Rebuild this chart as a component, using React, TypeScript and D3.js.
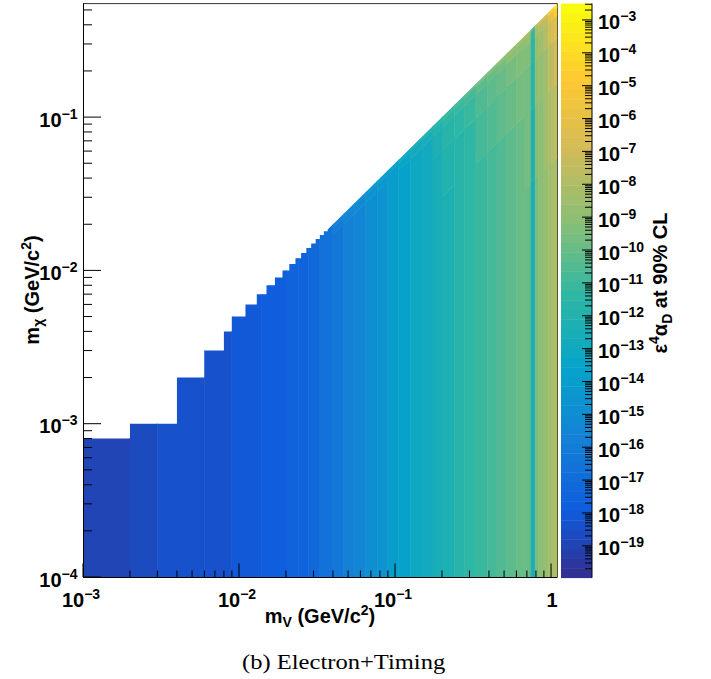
import React from "react";
import * as d3 from "d3";

// ---------------------------------------------------------------------------
// Scan region: upper staircase edge at low mass (GeV/c^2). stepMChiTop[i]
// holds for m_V in [stepMV[i], stepMV[i+1]]; above stepMV's last entry the
// region is bounded by m_chi = m_V / 2.
const stepMV = [
  0.001, 0.002, 0.004, 0.006, 0.008, 0.009, 0.011, 0.013, 0.015, 0.017,
  0.019, 0.021, 0.023, 0.025, 0.027, 0.029, 0.031, 0.033, 0.035, 0.037,
];
const stepMChiTop = [
  0.0008, 0.001, 0.002, 0.003, 0.004, 0.005, 0.006, 0.007, 0.008, 0.009,
  0.01, 0.011, 0.012, 0.013, 0.014, 0.015, 0.016, 0.017, 0.018,
];

// m_V columns (edges) and log10(eps^4 alpha_D) limit away from threshold
const columnMV = [
  0.001, 0.002, 0.003, 0.006, 0.009, 0.014, 0.017, 0.02, 0.024, 0.028,
  0.033, 0.04, 0.047, 0.055, 0.065, 0.077, 0.09, 0.105, 0.125, 0.15,
  0.175, 0.2, 0.24, 0.28, 0.33, 0.39, 0.45, 0.52, 0.6, 0.68,
  0.745, 0.79, 0.83, 0.9, 0.96, 1.0, 1.05, 1.1,
];
const log10LimitFar = [
  -18.84, -18.66, -18.49, -18.31, -18.05, -17.79, -17.7, -17.56, -17.35, -17.09,
  -16.65, -16.22, -15.78, -15.34, -14.91, -14.47, -14.12, -13.68, -13.25, -12.81,
  -12.46, -12.11, -11.76, -11.41, -11.07, -10.8, -10.54, -10.28, -10.02, -9.84,
  -12.4, -9.49, -9.14, -8.8, -8.53, -8.27, -8.1,
];

// Rise of the limit close to threshold (decades), by mass-ratio band
// r = m_chi / (m_V / 2) and by m_V group
const ratioBandEdges = [0, 0.1, 0.3, 0.6, 0.85, 0.95];
const riseGroupMV = [0.001, 0.037, 0.1, 0.2, 0.33, 0.52, 0.745, 0.79, 0.96, 1.05, 1.1];
const riseBand0 = [0, 0, 0, 0, 0, 0, 0, 0, 0, 0];
const riseBand1 = [0, 0, 0, 0, 0.05, 0.1, 0.1, 0.2, 0.3, 0.4];
const riseBand2 = [0, 0, 0, 0.1, 0.2, 0.3, 0.3, 0.4, 0.8, 1.0];
const riseBand3 = [0, 0, 0.1, 0.3, 0.5, 0.6, 0.6, 0.8, 1.5, 1.8];
const riseBand4 = [0, 0.2, 0.4, 0.6, 0.9, 1.1, 1.0, 1.3, 2.5, 3.5];
const riseBand5 = [0, 0.5, 0.8, 1.1, 1.4, 1.6, 1.5, 2.0, 3.5, 5.0];
const riseBands = [riseBand0, riseBand1, riseBand2, riseBand3, riseBand4, riseBand5];

// Axis decades
const xMajorExp = [-3, -2, -1, 0];
const yMajorExp = [-4, -3, -2, -1];
const zMajorExp = [-19, -18, -17, -16, -15, -14, -13, -12, -11, -10, -9, -8, -7, -6, -5, -4, -3];

// ROOT kBird palette
const birdStops = [0, 0.125, 0.25, 0.375, 0.5, 0.625, 0.75, 0.875, 1];
const birdR = [0.2082, 0.0592, 0.078, 0.0232, 0.1802, 0.5301, 0.8186, 0.9956, 0.9764];
const birdG = [0.1664, 0.3599, 0.5041, 0.6419, 0.7178, 0.7492, 0.7328, 0.7862, 0.9832];
const birdB = [0.5293, 0.8684, 0.8385, 0.7914, 0.6425, 0.4662, 0.3499, 0.1968, 0.0539];

// ---------------------------------------------------------------------------
const W = 711;
const H = 679;
const X_MIN = 1e-3, X_MAX = 1.1;
const Y_MIN = 1e-4, Y_MAX = 0.55;
const Z_LOG_MIN = -19.97, Z_LOG_MAX = -2.5;
const N_CONTOURS = 60;

const FRAME = { left: 83, right: 557.5, top: 3.6, bottom: 577 };
const CBAR = { left: 561, right: 592, top: 3.5, bottom: 577.7 };

const x = d3.scaleLog().domain([X_MIN, X_MAX]).range([FRAME.left, FRAME.right]);
const y = d3.scaleLog().domain([Y_MIN, Y_MAX]).range([FRAME.bottom, FRAME.top]);
const z = d3.scaleLog().domain([10 ** Z_LOG_MIN, 10 ** Z_LOG_MAX]).range([CBAR.bottom, CBAR.top]);

const bird = d3
  .scaleLinear<string>()
  .domain(birdStops)
  .range(birdStops.map((_, i) => d3.rgb(birdR[i] * 255, birdG[i] * 255, birdB[i] * 255).toString()))
  .interpolate(d3.interpolateRgb)
  .clamp(true);

const levelOf = (logz: number) => {
  const t = (logz - Z_LOG_MIN) / (Z_LOG_MAX - Z_LOG_MIN);
  return Math.max(0, Math.min(N_CONTOURS - 1, Math.floor(t * N_CONTOURS)));
};
const levelColor = (k: number) => bird((k + 0.99) / N_CONTOURS);

const FONT = "'Liberation Sans', Arial, Helvetica, sans-serif";
const MINUS = "\u2212";

type Cell = { pts: [number, number][]; color: string };

// One polygon per run of equal colour inside a column; band boundaries are
// lines of constant m_chi / m_V, so they run parallel to the diagonal.
function buildCells(): Cell[] {
  const cells: Cell[] = [];
  const clampY = (v: number) => Math.max(Y_MIN * 0.5, Math.min(Y_MAX * 2, v));
  const nBands = ratioBandEdges.length;
  for (let i = 0; i < columnMV.length - 1; i++) {
    const x0 = columnMV[i];
    const x1 = columnMV[i + 1];
    const xm = Math.sqrt(x0 * x1);
    const g = Math.min(riseGroupMV.length - 2, d3.bisectRight(riseGroupMV, xm) - 1);
    const bandLevel = ratioBandEdges.map((_, j) => levelOf(log10LimitFar[i] + riseBands[j][g]));
    let j = 0;
    while (j < nBands) {
      let k = j;
      while (k + 1 < nBands && bandLevel[k + 1] === bandLevel[j]) k++;
      const qLo = ratioBandEdges[j];
      const qHi = k + 1 < nBands ? ratioBandEdges[k + 1] : null;
      const lo = (mv: number) => (j === 0 ? Y_MIN * 0.5 : clampY((qLo * mv) / 2));
      const hi = (mv: number) => (qHi === null ? Y_MAX * 2 : clampY((qHi * mv) / 2));
      cells.push({
        pts: [
          [x(x0), y(hi(x0))],
          [x(x1), y(hi(x1))],
          [x(x1), y(lo(x1))],
          [x(x0), y(lo(x0))],
        ],
        color: levelColor(bandLevel[j]),
      });
      j = k + 1;
    }
  }
  return cells;
}

function regionOutline(): string {
  const pts: [number, number][] = [];
  pts.push([x(X_MIN), y(Y_MIN)]);
  for (let i = 0; i < stepMChiTop.length; i++) {
    pts.push([x(stepMV[i]), y(stepMChiTop[i])]);
    pts.push([x(stepMV[i + 1]), y(stepMChiTop[i])]);
  }
  const lastMV = stepMV[stepMV.length - 1];
  pts.push([x(lastMV), y(lastMV / 2)]);
  pts.push([x(X_MAX), y(X_MAX / 2)]);
  pts.push([x(X_MAX), y(Y_MIN)]);
  return "M" + pts.map((p) => p.join(",")).join("L") + "Z";
}

function Pow10Label(props: { x: number; y: number; exp: number; anchor: "start" | "middle" | "end"; size?: number }) {
  const size = props.size ?? 20;
  if (props.exp === 0) {
    return (
      <text x={props.x} y={props.y} textAnchor={props.anchor} fontFamily={FONT} fontWeight="bold" fontSize={size}>
        1
      </text>
    );
  }
  return (
    <text x={props.x} y={props.y} textAnchor={props.anchor} fontFamily={FONT} fontWeight="bold" fontSize={size}>
      10
      <tspan dy={-8} fontSize={size * 0.7}>
        {MINUS + Math.abs(props.exp)}
      </tspan>
    </text>
  );
}

export default function App() {
  const cells = buildCells();
  const outline = regionOutline();

  const xTicks = x.ticks();
  const yTicks = y.ticks();
  const zMinor: number[] = [];
  for (let e = Math.floor(Z_LOG_MIN); e < Math.ceil(Z_LOG_MAX); e++) {
    for (let m = 2; m <= 9; m++) {
      const v = m * 10 ** e;
      if (Math.log10(v) > Z_LOG_MIN && Math.log10(v) < Z_LOG_MAX) zMinor.push(v);
    }
  }
  const isDecade = (v: number) => Math.abs(Math.log10(v) - Math.round(Math.log10(v))) < 1e-6;

  const levels = d3.range(N_CONTOURS);
  const levelLog = (k: number) => Z_LOG_MIN + ((Z_LOG_MAX - Z_LOG_MIN) * k) / N_CONTOURS;

  return (
    <svg
      width={W}
      height={H}
      viewBox={`0 0 ${W} ${H}`}
      style={{ position: "absolute", left: 0, top: 0, background: "#fff" }}
    >
      <defs>
        <clipPath id="scan-region">
          <path d={outline} />
        </clipPath>
      </defs>
      <rect x={0} y={0} width={W} height={H} fill="#fff" />

      {/* frame (right edge is mostly hidden under the map) */}
      <line x1={FRAME.right} x2={FRAME.right} y1={FRAME.top} y2={FRAME.bottom} stroke="#000" strokeWidth={1} />
      <line x1={FRAME.left} x2={FRAME.right} y1={FRAME.top} y2={FRAME.top} stroke="#333" strokeWidth={1} />

      {/* limit map */}
      <g clipPath="url(#scan-region)">
        {cells.map((c, i) => (
          <polygon
            key={i}
            points={c.pts.map((p) => p.join(",")).join(" ")}
            fill={c.color}
            stroke={c.color}
            strokeWidth={0.6}
          />
        ))}
      </g>

      {/* x axis */}
      <line x1={FRAME.left} x2={FRAME.right} y1={FRAME.bottom + 0.5} y2={FRAME.bottom + 0.5} stroke="#000" strokeWidth={1} />
      {xTicks.map((v, i) => (
        <line
          key={"xt" + i}
          x1={x(v)}
          x2={x(v)}
          y1={FRAME.bottom}
          y2={FRAME.bottom - (isDecade(v) ? 13.5 : 6.5)}
          stroke="#000"
          strokeWidth={1}
        />
      ))}
      {xMajorExp.map((e) => (
        <Pow10Label key={"xl" + e} x={x(10 ** e) - (e === 0 ? -1 : 2)} y={606.5} exp={e} anchor="middle" />
      ))}
      <text x={320} y={623} textAnchor="middle" fontFamily={FONT} fontWeight="bold" fontSize={20}>
        m
        <tspan dy={4} fontSize={14}>V</tspan>
        <tspan dy={-4}> (GeV/c</tspan>
        <tspan dy={-8} fontSize={14}>2</tspan>
        <tspan dy={8}>)</tspan>
      </text>

      {/* y axis */}
      <line x1={FRAME.left + 0.5} x2={FRAME.left + 0.5} y1={FRAME.top} y2={FRAME.bottom} stroke="#000" strokeWidth={1} />
      {yTicks.map((v, i) => (
        <line
          key={"yt" + i}
          x1={FRAME.left}
          x2={FRAME.left + (isDecade(v) ? 18 : 9)}
          y1={y(v)}
          y2={y(v)}
          stroke="#000"
          strokeWidth={1}
        />
      ))}
      {yMajorExp.map((e) => (
        <Pow10Label key={"yl" + e} x={77.5} y={y(10 ** e) + 9.5} exp={e} anchor="end" />
      ))}
      <text
        transform="translate(39,290) rotate(-90)"
        textAnchor="middle"
        fontFamily={FONT}
        fontWeight="bold"
        fontSize={20}
      >
        m
        <tspan dy={4} fontSize={14}>χ</tspan>
        <tspan dy={-4}> (GeV/c</tspan>
        <tspan dy={-8} fontSize={14}>2</tspan>
        <tspan dy={8}>)</tspan>
      </text>

      {/* colour bar */}
      {levels.map((k) => {
        const y0 = z(10 ** levelLog(k + 1));
        const y1 = z(10 ** levelLog(k));
        return (
          <rect
            key={"cb" + k}
            x={CBAR.left}
            y={y0}
            width={CBAR.right - CBAR.left}
            height={y1 - y0 + 0.4}
            fill={levelColor(k)}
          />
        );
      })}
      <line x1={CBAR.right} x2={CBAR.right} y1={CBAR.top} y2={CBAR.bottom} stroke="#000" strokeWidth={1} />
      {zMinor.map((v, i) => (
        <line key={"zm" + i} x1={CBAR.right} x2={CBAR.right - 7} y1={z(v)} y2={z(v)} stroke="#000" strokeWidth={1} />
      ))}
      {zMajorExp.map((e) => (
        <g key={"zl" + e}>
          <line x1={CBAR.right} x2={CBAR.right - 10} y1={z(10 ** e)} y2={z(10 ** e)} stroke="#000" strokeWidth={1} />
          <Pow10Label x={598} y={z(10 ** e) + 9.5} exp={e} anchor="start" />
        </g>
      ))}
      <text
        transform="translate(667,283) rotate(-90)"
        textAnchor="middle"
        fontFamily={FONT}
        fontWeight="bold"
        fontSize={20}
      >
        ε
        <tspan dy={-8} fontSize={14}>4</tspan>
        <tspan dy={8}>α</tspan>
        <tspan dy={5} fontSize={14}>D</tspan>
        <tspan dy={-5}> at 90% CL</tspan>
      </text>

      {/* caption */}
      <text
        transform="translate(242,669) scale(1.17,1)"
        fontFamily="'Liberation Serif', 'Times New Roman', serif"
        fontSize={21}
      >
        (b) Electron+Timing
      </text>
    </svg>
  );
}
